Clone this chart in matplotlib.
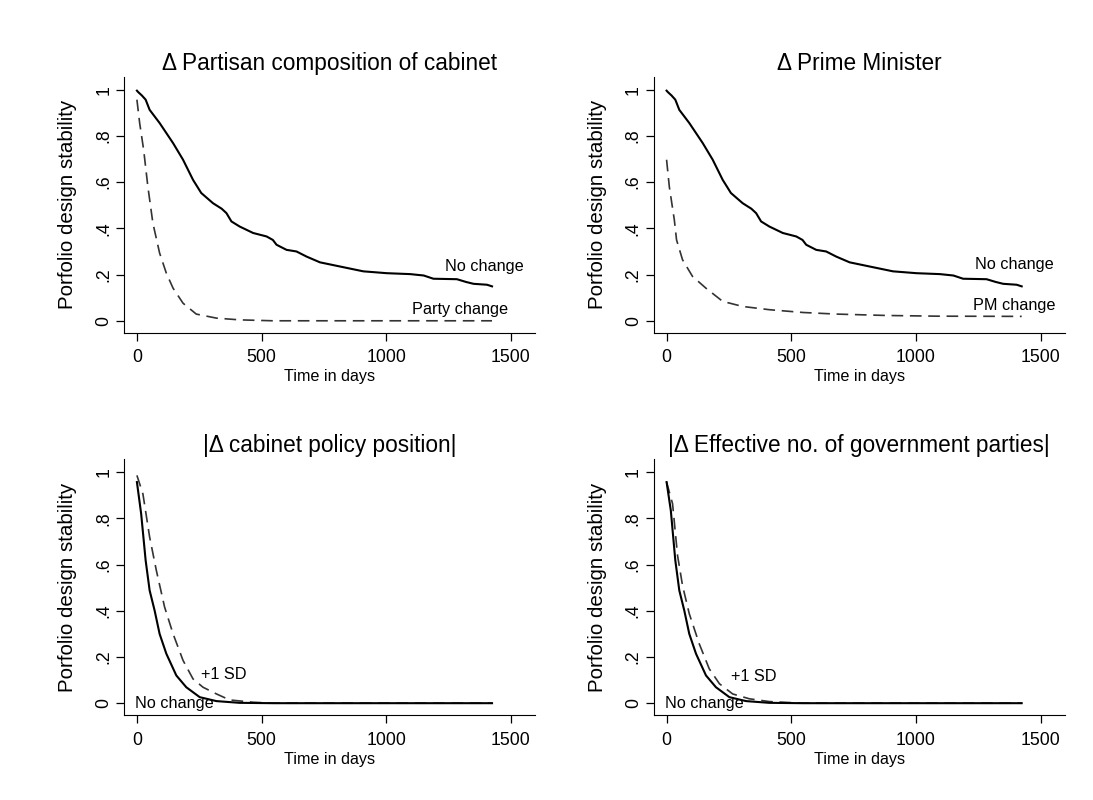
import numpy as np
import matplotlib
matplotlib.use("Agg")
import matplotlib.pyplot as plt

plt.rcParams['font.family'] = ['Liberation Sans', 'DejaVu Sans']

# survival curves (days, stability)
nochange_days = [0, 5, 20, 35, 51, 91, 145, 185, 225, 258, 305, 340, 359, 379, 412, 466, 520,
                 545, 560, 600, 640, 680, 734, 814, 908, 1002, 1096, 1150, 1189, 1283, 1320,
                 1350, 1404, 1424]
nochange_surv = [0.996, 0.99, 0.975, 0.957, 0.913, 0.856, 0.769, 0.697, 0.610, 0.553, 0.509,
                 0.485, 0.466, 0.430, 0.408, 0.380, 0.365, 0.350, 0.329, 0.307, 0.300, 0.278,
                 0.253, 0.235, 0.214, 0.206, 0.202, 0.196, 0.182, 0.180, 0.168, 0.160, 0.156,
                 0.149]

party_days = [0, 11, 27, 44, 64, 91, 118, 145, 185, 238, 319, 412, 546, 1424]
party_surv = [0.957, 0.856, 0.740, 0.58, 0.423, 0.293, 0.206, 0.141, 0.076, 0.029, 0.0115,
              0.004, 0.0, 0.0]

pm_days = [0, 11, 31, 40, 64, 104, 158, 225, 305, 412, 546, 680, 881, 1082, 1424]
pm_surv = [0.697, 0.58, 0.437, 0.35, 0.264, 0.192, 0.141, 0.084, 0.062, 0.048, 0.036, 0.029,
           0.023, 0.020, 0.019]

policy_nc_days = [0, 17, 35, 51, 71, 91, 118, 158, 198, 252, 319, 412, 546, 1424]
policy_nc_surv = [0.957, 0.82, 0.618, 0.488, 0.401, 0.30, 0.214, 0.12, 0.069, 0.026, 0.009,
                  0.0015, 0.0, 0.0]
policy_sd_days = [0, 24, 51, 78, 111, 145, 185, 225, 265, 319, 372, 466, 546, 1424]
policy_sd_surv = [0.986, 0.906, 0.719, 0.574, 0.416, 0.30, 0.185, 0.105, 0.069, 0.040, 0.014,
                  0.004, 0.0, 0.0]

enp_nc_days = [0, 17, 35, 51, 71, 91, 118, 158, 198, 252, 319, 412, 546, 1424]
enp_nc_surv = [0.957, 0.834, 0.618, 0.488, 0.401, 0.30, 0.214, 0.12, 0.069, 0.026, 0.009,
               0.0015, 0.0, 0.0]
enp_sd_days = [0, 24, 44, 64, 91, 131, 171, 212, 265, 332, 412, 546, 1424]
enp_sd_surv = [0.957, 0.863, 0.639, 0.509, 0.387, 0.257, 0.149, 0.084, 0.040, 0.019, 0.007,
               0.0, 0.0]

titles = [u'\u0394 Partisan composition of cabinet', u'\u0394 Prime Minister',
          u'|\u0394 cabinet policy position|', u'|\u0394 Effective no. of government parties|']
yticks = [0, 0.2, 0.4, 0.6, 0.8, 1]
ytick_labels = ['0', '.2', '.4', '.6', '.8', '1']
xticks = [0, 500, 1000, 1500]

fig = plt.figure(figsize=(10.93, 8), dpi=100)
positions = [[0.1134, 0.584, 0.376, 0.32], [0.598, 0.584, 0.376, 0.32],
             [0.1134, 0.106, 0.376, 0.32], [0.598, 0.106, 0.376, 0.32]]
axes = [fig.add_axes(p) for p in positions]

dash = (0, (7, 4))
solid_kw = dict(color='black', lw=1.5)
dash_kw = dict(color='#333333', lw=1.2, linestyle=dash)
lab = 11.7

ax = axes[0]
ax.plot(nochange_days, nochange_surv, **solid_kw)
ax.plot(party_days, party_surv, **dash_kw)
ax.text(1395, 0.235, 'No change', ha='center', va='center', fontsize=lab)
ax.text(1296, 0.048, 'Party change', ha='center', va='center', fontsize=lab)

ax = axes[1]
ax.plot(nochange_days, nochange_surv, **solid_kw)
ax.plot(pm_days, pm_surv, **dash_kw)
ax.text(1395, 0.242, 'No change', ha='center', va='center', fontsize=lab)
ax.text(1395, 0.065, 'PM change', ha='center', va='center', fontsize=lab)

ax = axes[2]
ax.plot(policy_sd_days, policy_sd_surv, **dash_kw)
ax.plot(policy_nc_days, policy_nc_surv, **solid_kw)
ax.text(350, 0.124, '+1 SD', ha='center', va='center', fontsize=lab)
ax.text(151, -0.003, 'No change', ha='center', va='center', fontsize=lab)

ax = axes[3]
ax.plot(enp_sd_days, enp_sd_surv, **dash_kw)
ax.plot(enp_nc_days, enp_nc_surv, **solid_kw)
ax.text(350, 0.115, '+1 SD', ha='center', va='center', fontsize=lab)
ax.text(151, -0.003, 'No change', ha='center', va='center', fontsize=lab)

for ax, t in zip(axes, titles):
    ax.set_xlim(-52, 1596)
    ax.set_ylim(-0.052, 1.056)
    ax.spines['top'].set_visible(False)
    ax.spines['right'].set_visible(False)
    ax.set_xticks(xticks)
    ax.set_yticks(yticks)
    ax.set_yticklabels(ytick_labels, rotation=90, va='center')
    ax.tick_params(length=6, width=0.9, labelsize=12.7, pad=2.5)
    ax.tick_params(axis='x', pad=6)
    ax.set_title(t, fontsize=16.3, pad=5)
    ax.set_xlabel('Time in days', fontsize=11.6, labelpad=2)
    ax.set_ylabel('Porfolio design stability', fontsize=14.8, labelpad=13)

fig.savefig('out.png', dpi=100, facecolor='white')
